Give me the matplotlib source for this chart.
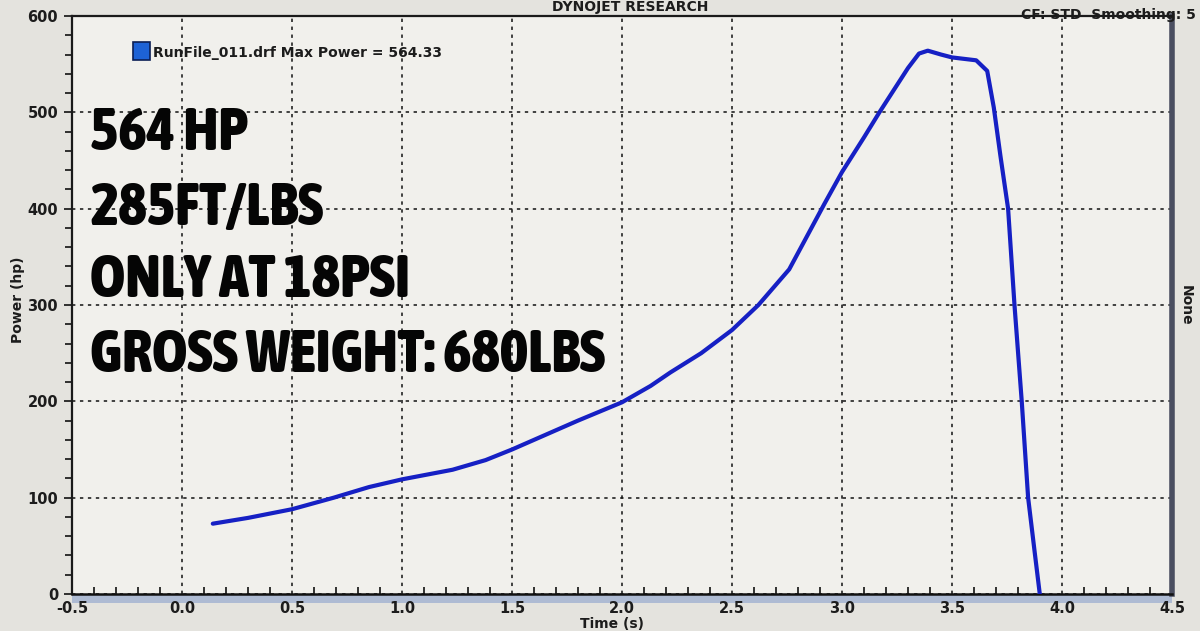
import matplotlib
matplotlib.use("Agg")
import matplotlib.pyplot as plt
from matplotlib import font_manager as fm
from matplotlib.patches import Rectangle

# ---- data ----
time_s = [0.14, 0.30, 0.50, 0.69, 0.85, 1.00, 1.23, 1.38, 1.50, 1.65, 1.80,
          2.00, 2.13, 2.22, 2.36, 2.50, 2.62, 2.76, 2.84, 2.92, 3.00, 3.10, 3.17,
          3.30, 3.35, 3.39, 3.45, 3.50, 3.61, 3.66, 3.69, 3.72, 3.755, 3.784,
          3.817, 3.846, 3.875, 3.899]
power_hp = [73, 79, 88, 100, 111, 119, 129, 139, 150, 165, 180,
            199, 216, 230, 250, 274, 300, 337, 371, 405, 438, 474, 500,
            546, 561, 564, 560, 557, 554, 543, 505, 455, 400, 300,
            200, 100, 45, 0]
x_ticks = [-0.5, 0.0, 0.5, 1.0, 1.5, 2.0, 2.5, 3.0, 3.5, 4.0, 4.5]
y_ticks = [0, 100, 200, 300, 400, 500, 600]
legend_label = "RunFile_011.drf Max Power = 564.33"
overlay_lines = ["564 HP", "285FT/LBS", "ONLY AT 18PSI", "GROSS WEIGHT: 680LBS"]

W, H = 1200, 631
fig = plt.figure(figsize=(W / 100, H / 100), dpi=100)
fig.patch.set_facecolor("#e4e3de")

def fx(px):
    return px / W

def fy(py):
    return 1 - py / H

ax = fig.add_axes([fx(72), fy(594), fx(1172) - fx(72), fy(16) - fy(594)])
ax.set_facecolor("#f1f0ec")
ax.set_xlim(-0.5, 4.5)
ax.set_ylim(0, 600)

ax.plot(time_s, power_hp, color="#1620c4", lw=3.0, solid_joinstyle="round",
        solid_capstyle="round", zorder=3)

# grid
ax.set_xticks(x_ticks)
ax.set_yticks(y_ticks)
ax.set_xticks([v / 10 for v in range(-5, 46)], minor=True)
ax.set_yticks(list(range(0, 601, 20)), minor=True)
ax.grid(True, which="major", color="#111111", linestyle=(0, (2.2, 3.0)), lw=1.1)
ax.set_xticklabels(["%.1f" % v for v in x_ticks])
ax.set_yticklabels([str(v) for v in y_ticks])

lab_kw = dict(fontweight="bold", fontsize=10, color="#1c1c1c", family="DejaVu Sans")
for lbl in ax.get_xticklabels() + ax.get_yticklabels():
    lbl.set_fontweight("bold")
    lbl.set_fontsize(10.5)
    lbl.set_color("#1c1c1c")

ax.tick_params(axis="x", which="both", direction="in", length=5, width=1.2,
               color="#111111", pad=5)
ax.tick_params(axis="y", which="both", direction="out", length=5, width=1.2,
               color="#111111", pad=4)
ax.tick_params(axis="x", which="major", length=0)
ax.tick_params(axis="y", which="major", length=6)

for s in ["left", "top"]:
    ax.spines[s].set_color("#1a1a1a")
    ax.spines[s].set_linewidth(1.6)
ax.spines["bottom"].set_color("#111111")
ax.spines["bottom"].set_linewidth(1.8)
ax.spines["right"].set_color("#4a4e60")
ax.spines["right"].set_linewidth(4)

# blue-grey band under the time axis
ax.add_patch(Rectangle((0, -0.016), 1, 0.016, transform=ax.transAxes,
                       facecolor="#aebbd3", edgecolor="none", clip_on=False, zorder=1))

# axis titles and header texts
fig.text(fx(612), fy(624), "Time (s)", ha="center", va="center", **lab_kw)
fig.text(fx(18), fy(300), "Power (hp)", ha="center", va="center", rotation=90, **lab_kw)
fig.text(fx(630), fy(7), "DYNOJET RESEARCH", ha="center", va="center", **lab_kw)
fig.text(fx(1196), fy(15), "CF: STD  Smoothing: 5", ha="right", va="center", **lab_kw)
fig.text(fx(1186), fy(305), "None", ha="center", va="center", rotation=-90, **lab_kw)

# legend entry
ax.add_patch(Rectangle((fx(133), fy(60)), fx(150) - fx(133), fy(42) - fy(60),
                       transform=fig.transFigure, facecolor="#1d62d6",
                       edgecolor="#0b1f55", lw=1.2, zorder=5, clip_on=False))
fig.text(fx(153), fy(53), legend_label, ha="left", va="center", **lab_kw)

# overlay text: pick the most condensed heavy face that is installed
rank = {"ultra-condensed": 1, "extra-condensed": 2, "condensed": 3,
        "semi-condensed": 4}

def wnum(w):
    if isinstance(w, (int, float)):
        return w
    return {"bold": 700, "heavy": 800, "black": 900, "extra bold": 800,
            "semibold": 600, "demibold": 600}.get(str(w).lower(), 400)

best = None
for f in fm.fontManager.ttflist:
    st = f.stretch
    r = rank.get(st, None) if isinstance(st, str) else (1 if st <= 300 else 3 if st <= 500 else None)
    nm = f.name.lower()
    if r is None and ("narrow" in nm or "condensed" in nm or "compressed" in nm):
        r = 3
    if r is None or wnum(f.weight) < 600 or "italic" in f.style or "oblique" in f.style:
        continue
    key = (r, abs(wnum(f.weight) - 800))
    if best is None or key < best[0]:
        best = (key, f.fname)

if best is not None:
    ov_kw = dict(fontproperties=fm.FontProperties(fname=best[1]), color="#050505")
else:
    ov_kw = dict(family="DejaVu Sans", fontweight="bold", color="#050505")

baselines = [150, 225, 297, 372]
texts = []
for line, b in zip(overlay_lines, baselines):
    t = fig.text(fx(90), fy(b), line, ha="left", va="baseline", **ov_kw)
    t.set_fontsize(40)
    texts.append(t)

fig.canvas.draw()
r = fig.canvas.get_renderer()
wlong = texts[-1].get_window_extent(r).width
target = 515.0
new_size = 40 * target / wlong
for t in texts:
    t.set_fontsize(new_size)

fig.savefig("out.png", dpi=100, facecolor=fig.get_facecolor())
